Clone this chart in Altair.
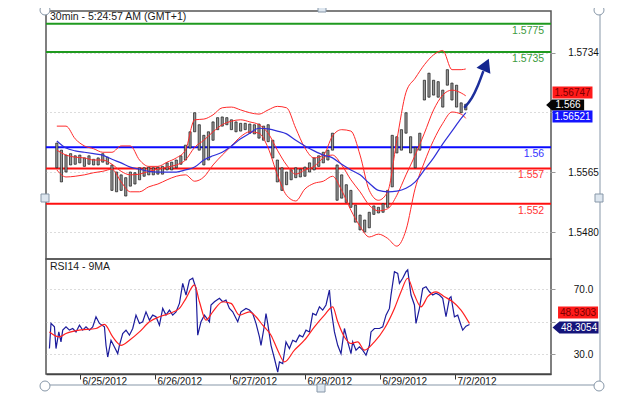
import altair as alt
import pandas as pd

FONT = "Liberation Sans"

# ---------------- axis labels ----------------
TICK_BARS = [0, 48, 96, 144, 192, 240]          # 30-min bar index (0 = start of 6/25)
TICK_LABELS = ["6/25/2012", "6/26/2012", "6/27/2012", "6/28/2012", "6/29/2012", "7/2/2012"]
PRICE_TICKS = [1.5480, 1.5565, 1.5650, 1.5734]
RSI_TICKS = [30, 50, 70]

# ---------------- price candles (sampled every 3 bars) ----------------
candle_bar = list(range(-18, 250, 3))
candle_high = [1.5606, 1.5596, 1.5589, 1.5591, 1.5588, 1.5589, 1.5585, 1.5588, 1.5583, 1.5585,
               1.5591, 1.5586, 1.5575, 1.5565, 1.5561, 1.5557, 1.5565, 1.5564, 1.5571, 1.5571,
               1.5572, 1.5571, 1.5572, 1.5573, 1.5578, 1.5579, 1.5582, 1.5588, 1.5603, 1.5622,
               1.5649, 1.5632, 1.5617, 1.5622, 1.5636, 1.5642, 1.5643, 1.5642, 1.5639, 1.5636,
               1.5634, 1.5634, 1.5633, 1.5632, 1.5633, 1.5630, 1.5632, 1.5610, 1.5582, 1.5571,
               1.5565, 1.5568, 1.5571, 1.5569, 1.5572, 1.5578, 1.5585, 1.5588, 1.5593, 1.5596,
               1.5620, 1.5575, 1.5561, 1.5547, 1.5539, 1.5518, 1.5504, 1.5497, 1.5508, 1.5517,
               1.5515, 1.5520, 1.5539, 1.5617, 1.5615, 1.5625, 1.5649, 1.5615, 1.5600, 1.5620,
               1.5695, 1.5705, 1.5695, 1.5693, 1.5681, 1.5710, 1.5691, 1.5688, 1.5663, 1.5661]
candle_low = [1.5571, 1.5551, 1.5565, 1.5575, 1.5576, 1.5578, 1.5573, 1.5576, 1.5575, 1.5575,
              1.5579, 1.5576, 1.5539, 1.5537, 1.5539, 1.5531, 1.5545, 1.5548, 1.5554, 1.5559,
              1.5561, 1.5561, 1.5562, 1.5562, 1.5568, 1.5568, 1.5571, 1.5576, 1.5582, 1.5599,
              1.5622, 1.5596, 1.5575, 1.5582, 1.5610, 1.5625, 1.5630, 1.5632, 1.5625, 1.5622,
              1.5623, 1.5625, 1.5620, 1.5619, 1.5613, 1.5610, 1.5608, 1.5585, 1.5551, 1.5539,
              1.5547, 1.5554, 1.5557, 1.5558, 1.5559, 1.5565, 1.5568, 1.5573, 1.5578, 1.5582,
              1.5596, 1.5525, 1.5528, 1.5522, 1.5515, 1.5494, 1.5483, 1.5480, 1.5486, 1.5505,
              1.5507, 1.5508, 1.5515, 1.5544, 1.5592, 1.5596, 1.5620, 1.5592, 1.5571, 1.5596,
              1.5667, 1.5671, 1.5674, 1.5671, 1.5657, 1.5688, 1.5667, 1.5657, 1.5649, 1.5653]

# ---------------- Bollinger bands and moving average ----------------
band_bar = [-18, -12, -6, 0, 6, 12, 18, 24, 30, 36, 42, 48, 54, 60, 66, 72, 78, 84, 90, 96,
            102, 108, 114, 120, 126, 132, 138, 144, 150, 156, 162, 168, 174, 180, 186, 192,
            198, 204, 210, 216, 222, 228, 234, 240, 246, 249]
bb_upper = [1.5630, 1.5630, 1.5612, 1.5602, 1.5598, 1.5593, 1.5593, 1.5602, 1.5602, 1.5582,
            1.5573, 1.5573, 1.5579, 1.5585, 1.5596, 1.5639, 1.5640, 1.5646, 1.5656, 1.5657,
            1.5653, 1.5649, 1.5647, 1.5653, 1.5658, 1.5656, 1.5627, 1.5599, 1.5585, 1.5589,
            1.5616, 1.5625, 1.5623, 1.5589, 1.5539, 1.5525, 1.5537, 1.5610, 1.5678, 1.5698,
            1.5717, 1.5731, 1.5737, 1.5710, 1.5710, 1.5711]
bb_middle = [1.5596, 1.5589, 1.5586, 1.5585, 1.5582, 1.5582, 1.5576, 1.5566, 1.5561, 1.5562,
             1.5566, 1.5569, 1.5572, 1.5575, 1.5582, 1.5600, 1.5610, 1.5622, 1.5632, 1.5637,
             1.5639, 1.5636, 1.5632, 1.5620, 1.5596, 1.5575, 1.5562, 1.5568, 1.5573, 1.5585,
             1.5589, 1.5575, 1.5554, 1.5537, 1.5518, 1.5510, 1.5513, 1.5532, 1.5561, 1.5589,
             1.5620, 1.5653, 1.5674, 1.5681, 1.5677, 1.5673]
bb_lower = [1.5568, 1.5558, 1.5559, 1.5561, 1.5564, 1.5566, 1.5569, 1.5551, 1.5537, 1.5537,
            1.5544, 1.5548, 1.5554, 1.5559, 1.5561, 1.5552, 1.5558, 1.5575, 1.5589, 1.5602,
            1.5615, 1.5622, 1.5620, 1.5599, 1.5561, 1.5532, 1.5524, 1.5541, 1.5549, 1.5552,
            1.5559, 1.5539, 1.5511, 1.5488, 1.5473, 1.5477, 1.5471, 1.5460, 1.5483, 1.5542,
            1.5579, 1.5610, 1.5634, 1.5650, 1.5647, 1.5641]
ma_blue = [1.5609, 1.5599, 1.5595, 1.5593, 1.5591, 1.5589, 1.5583, 1.5578, 1.5572, 1.5569,
           1.5566, 1.5565, 1.5565, 1.5565, 1.5568, 1.5572, 1.5582, 1.5588, 1.5593, 1.5602,
           1.5612, 1.5620, 1.5627, 1.5626, 1.5623, 1.5619, 1.5610, 1.5602, 1.5595, 1.5589,
           1.5585, 1.5576, 1.5568, 1.5561, 1.5549, 1.5539, 1.5537, 1.5538, 1.5542, 1.5551,
           1.5568, 1.5585, 1.5605, 1.5623, 1.5641, 1.5649]

# ---------------- horizontal levels ----------------
level_values = [1.5775, 1.5735, 1.56, 1.557, 1.552]
level_labels = ["1.5775", "1.5735", "1.56", "1.557", "1.552"]
level_line_colors = ["#1f9a1f", "#1f9a1f", "#0a0aff", "#ff1010", "#ff1010"]
level_text_colors = ["#3d9a3d", "#3d9a3d", "#3535ff", "#ff3535", "#ff3535"]

# ---------------- forecast arrow ----------------
arrow_bar = [248, 253, 257, 260.5]
arrow_price = [1.5656, 1.5670, 1.5688, 1.5708]
arrow_head_bar = [262.3]
arrow_head_price = [1.5717]

# ---------------- RSI(14) and its 9-period MA ----------------
rsi_bar = [-19.6, -18.6, -16.4, -15.4, -13.6, -12.2, -11.1, -9, -6.8, -4.7,
           -2.6, -0.4, 1.7, 3.8, 6, 8.1, 10.2, 12.4, 15.6, 16.6,
           17.7, 19.8, 22, 24.1, 25.2, 27.3, 29.4, 31.6, 33.7, 35.8,
           38, 40.1, 42.2, 44.4, 46.5, 48.6, 50.8, 52.9, 55, 57.2,
           59.3, 61.4, 63.6, 65.7, 67.8, 70, 72.1, 74.2, 75.3, 77.4,
           79.6, 82.8, 83.8, 86, 89.2, 91.3, 93.4, 95.6, 97.7, 100.9,
           103, 106.2, 108.4, 110.5, 112.6, 114.8, 115.8, 118, 119, 120.1,
           122.2, 124.4, 126.5, 127.6, 129.7, 131.8, 134, 136.1, 138.2, 140.4,
           142.5, 144.6, 146.8, 148.9, 151, 153.2, 155.3, 157.4, 159.6, 160.6,
           162.8, 164.9, 167, 169.2, 171.3, 173.4, 174.5, 176.6, 178.8, 180.9,
           183, 185.2, 186.2, 188.4, 191.6, 193.7, 195.8, 198, 199, 201.2,
           203.3, 204.4, 206.5, 208.6, 209.7, 211.8, 214, 215, 217.2, 219.3,
           221.4, 223.6, 225.7, 227.8, 230, 232.1, 234.2, 236.4, 237.4, 239.6,
           241.7, 243.8, 244.9, 247, 249.2]
rsi_val = [33.5, 48.9, 46.8, 33.5, 43.7, 37.6, 44.8, 46.8, 44.8, 45.8,
           43.7, 47.8, 44.8, 46.8, 44.8, 46.8, 53.0, 48.9, 46.8, 35.5,
           28.3, 38.6, 34.5, 30.4, 35.5, 42.7, 44.8, 41.7, 45.8, 54.0,
           48.9, 49.9, 56.0, 50.9, 54.0, 53.0, 47.8, 58.1, 54.0, 57.1,
           54.0, 56.0, 61.2, 73.5, 66.3, 75.5, 76.6, 70.4, 41.7, 49.9,
           54.0, 49.9, 60.2, 62.2, 64.3, 62.2, 63.2, 58.1, 56.0, 49.9,
           56.0, 58.1, 57.1, 55.0, 48.9, 40.6, 35.5, 47.8, 55.0, 48.9,
           35.5, 27.4, 19.1, 25.3, 24.3, 37.6, 33.5, 38.6, 37.6, 41.7,
           40.6, 44.8, 43.7, 55.0, 54.0, 59.1, 57.1, 60.2, 69.4, 58.1,
           43.7, 35.5, 30.4, 45.8, 37.6, 30.4, 37.6, 32.5, 34.5, 32.5,
           29.4, 35.5, 43.7, 45.8, 45.8, 46.8, 54.0, 58.1, 66.3, 80.6,
           79.6, 73.5, 76.6, 80.6, 81.7, 66.3, 60.2, 48.9, 58.1, 70.4,
           71.4, 68.3, 66.3, 67.4, 66.3, 64.3, 53.0, 64.3, 65.3, 53.0,
           54.0, 47.8, 44.8, 47.2, 48.3]
rsi_ma_bar = [-19.6, -13.2, -9, -0.4, 10.2, 15.6, 20.9, 26.2, 31.6, 38,
              44.4, 50.8, 57.2, 63.6, 67.8, 73.2, 76.4, 80.6, 84.9, 91.3,
              96.6, 102, 108.4, 112.6, 116.9, 122.2, 126.5, 130.8, 137.2, 143.6,
              150, 156.4, 161.7, 164.9, 169.2, 173.4, 177.7, 182, 188.4, 194.8,
              201.2, 205.4, 209.7, 214, 218.2, 222.5, 227.8, 233.2, 238.5, 243.8,
              249.2]
rsi_ma_val = [43.7, 40.6, 42.7, 44.8, 45.8, 48.3, 40.6, 35.5, 38.6, 43.7,
              49.9, 53.0, 55.0, 58.1, 64.3, 72.5, 62.2, 50.9, 56.0, 62.2,
              61.2, 54.0, 56.0, 53.0, 47.8, 41.7, 32.5, 25.3, 32.5, 38.6,
              46.8, 54.0, 59.1, 49.9, 40.6, 36.6, 37.6, 32.5, 37.6, 45.8,
              58.1, 68.3, 76.6, 66.3, 59.1, 65.3, 68.3, 65.3, 62.2, 57.1,
              48.9]

# ---------------- last-value badges ----------------
price_badge_value = [1.56747, 1.566, 1.56521]
price_badge_text = ["1.56747", "1.566", "1.56521"]
price_badge_fill = ["#ff1a1a", "#050505", "#1414ff"]
price_badge_ink = ["#7a0000", "#ffffff", "#ffffff"]
rsi_badge_value = [48.9303, 48.3054]
rsi_badge_text = ["48.9303", "48.3054"]
rsi_badge_fill = ["#ff1a1a", "#14147a"]
rsi_badge_ink = ["#7a0000", "#ffffff"]

# =====================================================================
W, H_PRICE, H_RSI = 505, 248, 115
x_scale = alt.Scale(domain=[-21.8, 301.4], nice=False, zero=False)
price_scale = alt.Scale(domain=[1.54418, 1.57931], nice=False, zero=False)
rsi_scale = alt.Scale(domain=[17.9, 88.4], nice=False, zero=False)

# the tick hidden behind the last-value badges keeps its gridline but no label
price_axis = alt.Axis(orient="right", values=PRICE_TICKS, title=None,
                      labelExpr="datum.value == 1.565 ? '' : format(datum.value, '.4f')",
                      grid=True, gridDash=[1, 3], gridColor="#b8b8b8", domain=False,
                      ticks=True, tickSize=4, tickColor="#999", labelAlign="center",
                      labelPadding=28, labelFontSize=10, labelFont=FONT, labelColor="#111")
rsi_axis = alt.Axis(orient="right", values=RSI_TICKS, title=None,
                    labelExpr="datum.value == 50 ? '' : format(datum.value, '.1f')",
                    grid=True, gridDash=[1, 3], gridColor="#b8b8b8", domain=False,
                    ticks=True, tickSize=4, tickColor="#999", labelAlign="center",
                    labelPadding=28, labelFontSize=10, labelFont=FONT, labelColor="#111")
label_expr = ("[" + ",".join("'%s'" % t for t in TICK_LABELS) + "][indexof(["
              + ",".join(str(b) for b in TICK_BARS) + "], datum.value)]")
x_axis = alt.Axis(values=TICK_BARS, labelExpr=label_expr, title=None, grid=False,
                  domain=True, domainColor="#444", domainWidth=1.5, ticks=True, tickSize=5,
                  tickColor="#333", labelAlign="left", labelBaseline="top", labelOffset=2,
                  labelPadding=-3, labelFontSize=10, labelFont=FONT, labelColor="#111",
                  labelOverlap=False)


def XP(field):
    return alt.X(field, type="quantitative", scale=x_scale, axis=None)


def XR(field):
    return alt.X(field, type="quantitative", scale=x_scale, axis=x_axis)


def YP(field):
    return alt.Y(field, type="quantitative", scale=price_scale, axis=price_axis)


def YR(field):
    return alt.Y(field, type="quantitative", scale=rsi_scale, axis=rsi_axis)


candles = pd.DataFrame({"bar": candle_bar, "high": candle_high, "low": candle_low})
bands = pd.DataFrame({"bar": band_bar, "upper": bb_upper, "middle": bb_middle,
                      "lower": bb_lower, "ma": ma_blue})
levels = pd.DataFrame({"value": level_values, "label": level_labels,
                       "line": level_line_colors, "ink": level_text_colors})
arrow = pd.DataFrame({"bar": arrow_bar, "price": arrow_price})
arrow_head = pd.DataFrame({"bar": arrow_head_bar, "price": arrow_head_price})
pbadges = pd.DataFrame({"value": price_badge_value, "text": price_badge_text,
                        "fill": price_badge_fill, "ink": price_badge_ink})
rbadges = pd.DataFrame({"value": rsi_badge_value, "text": rsi_badge_text,
                        "fill": rsi_badge_fill, "ink": rsi_badge_ink})
rsi = pd.DataFrame({"bar": rsi_bar, "rsi": rsi_val})
rsi_ma = pd.DataFrame({"bar": rsi_ma_bar, "ma": rsi_ma_val})

RECT = "M-1,-0.3H1V0.3H-1Z"
POINTER = "M-1,0L-0.68,-0.29H1V0.29H-0.68Z"
POINTER_R = "M-1,0L-0.7,-0.26H1V0.26H-0.7Z"
FRAME = "#8797a8"

# ---------------- price panel ----------------
lv = alt.Chart(levels).mark_rule(strokeWidth=2).encode(
    y=YP("value"), color=alt.Color("line:N", scale=None))
cd = alt.Chart(candles).mark_bar(width=2.2, fill="#9a9a9a", stroke="#151515", strokeWidth=0.7).encode(
    x=XP("bar"), y=YP("low"), y2="high")
base_b = alt.Chart(bands)
up = base_b.mark_line(color="#ff2a2a", strokeWidth=1, interpolate="monotone").encode(x=XP("bar"), y=YP("upper"))
md = base_b.mark_line(color="#ff2a2a", strokeWidth=1, interpolate="monotone").encode(x=XP("bar"), y=YP("middle"))
lo = base_b.mark_line(color="#ff2a2a", strokeWidth=1, interpolate="monotone").encode(x=XP("bar"), y=YP("lower"))
ma = base_b.mark_line(color="#3030d8", strokeWidth=1.2, interpolate="monotone").encode(x=XP("bar"), y=YP("ma"))
lvt = alt.Chart(levels).mark_text(align="right", baseline="middle", dy=7, fontSize=10.5, font=FONT).encode(
    x=alt.XDatum(300.2, type="quantitative", scale=x_scale, axis=None),
    y=YP("value"), text="label:N", color=alt.Color("ink:N", scale=None))
ar = alt.Chart(arrow).mark_line(color="#1d2f9c", strokeWidth=2.5, interpolate="monotone").encode(
    x=XP("bar"), y=YP("price"))
ah = alt.Chart(arrow_head).mark_point(shape="triangle-up", angle=24, size=230, filled=True,
                                      color="#14268f", opacity=1).encode(x=XP("bar"), y=YP("price"))

pb_bg = []
pb_shapes = [(RECT, 318.7, -2, 1600), (POINTER, 313.9, 0, 1444), (RECT, 318.7, 6, 1600)]
pb_text_x = [318.7, 315.8, 318.7]
for i, (shape, xb, dy, size) in enumerate(pb_shapes):
    one = pbadges.iloc[[i]]
    pb_bg.append(alt.Chart(one).mark_point(shape=shape, size=size, filled=True, opacity=1,
                                           yOffset=dy).encode(
        x=alt.XDatum(xb, type="quantitative", scale=x_scale, axis=None),
        y=YP("value"), color=alt.Color("fill:N", scale=None)))
    pb_bg.append(alt.Chart(one).mark_text(fontSize=10, font=FONT, baseline="middle",
                                          yOffset=dy + 0.5).encode(
        x=alt.XDatum(pb_text_x[i], type="quantitative", scale=x_scale, axis=None),
        y=YP("value"), text="text:N", color=alt.Color("ink:N", scale=None)))

deco = pd.DataFrame({"k": [0]})
ttl = alt.Chart(deco).mark_text(text="30min - 5:24:57 AM (GMT+1)", align="left", baseline="middle",
                                fontSize=10.5, font=FONT, color="#1a1a1a").encode(
    x=alt.value(4), y=alt.value(5.5))
frame_p = alt.Chart(deco).mark_rule(color=FRAME, strokeWidth=1).encode(
    x=alt.value(554), y=alt.value(0), y2=alt.value(H_PRICE))
handles_p = pd.DataFrame({"hx": [-1, 553, 276, -1, 553], "hy": [-1, -1, -3, 187, 187],
                          "shape": ["circle", "circle", "square", "square", "square"]})
hp_c = alt.Chart(handles_p[handles_p["shape"] == "circle"]).mark_point(
    shape="circle", size=100, filled=True, fill="white", stroke=FRAME, strokeWidth=1, opacity=1).encode(
    x=alt.X("hx:Q", scale=None, axis=None), y=alt.Y("hy:Q", scale=None, axis=None))
hp_s = alt.Chart(handles_p[handles_p["shape"] == "square"]).mark_point(
    shape="square", size=64, filled=True, fill="#dde6ef", stroke=FRAME, strokeWidth=1, opacity=1).encode(
    x=alt.X("hx:Q", scale=None, axis=None), y=alt.Y("hy:Q", scale=None, axis=None))

price = alt.layer(lv, cd, up, md, lo, ma, ar, ah, lvt, *pb_bg, ttl, frame_p, hp_c, hp_s).properties(
    width=W, height=H_PRICE)

# ---------------- RSI panel ----------------
rl = alt.Chart(rsi).mark_line(color="#1c1c9c", strokeWidth=1.2).encode(x=XR("bar"), y=YR("rsi"))
rm = alt.Chart(rsi_ma).mark_line(color="#ff2020", strokeWidth=1.2, interpolate="monotone").encode(
    x=XR("bar"), y=YR("ma"))
rb = []
rb_shapes = [(RECT, 318.7, -11, 1600), (POINTER_R, 317.1, 3, 2116)]
rb_text_x = [318.7, 319.4]
for i, (shape, xb, dy, size) in enumerate(rb_shapes):
    one = rbadges.iloc[[i]]
    rb.append(alt.Chart(one).mark_point(shape=shape, size=size, filled=True, opacity=1,
                                        yOffset=dy).encode(
        x=alt.XDatum(xb, type="quantitative", scale=x_scale, axis=x_axis),
        y=YR("value"), color=alt.Color("fill:N", scale=None)))
    rb.append(alt.Chart(one).mark_text(fontSize=10, font=FONT, baseline="middle",
                                       yOffset=dy + 0.5).encode(
        x=alt.XDatum(rb_text_x[i], type="quantitative", scale=x_scale, axis=x_axis),
        y=YR("value"), text="text:N", color=alt.Color("ink:N", scale=None)))
rttl = alt.Chart(deco).mark_text(text="RSI14 - 9MA", align="left", baseline="middle",
                                 fontSize=10.5, font=FONT, color="#1a1a1a").encode(
    x=alt.value(4), y=alt.value(8))
frame_r = alt.Chart(deco).mark_rule(color=FRAME, strokeWidth=1).encode(
    x=alt.value(554), y=alt.value(0), y2=alt.value(126))
frame_b = alt.Chart(deco).mark_rule(color=FRAME, strokeWidth=1).encode(
    x=alt.value(-1), x2=alt.value(554), y=alt.value(126))
handles_r = pd.DataFrame({"hx": [-1, 553, 275], "hy": [127, 127, 129],
                          "shape": ["circle", "circle", "square"]})
hr_c = alt.Chart(handles_r[handles_r["shape"] == "circle"]).mark_point(
    shape="circle", size=100, filled=True, fill="white", stroke=FRAME, strokeWidth=1, opacity=1).encode(
    x=alt.X("hx:Q", scale=None, axis=None), y=alt.Y("hy:Q", scale=None, axis=None))
hr_s = alt.Chart(handles_r[handles_r["shape"] == "square"]).mark_point(
    shape="square", size=64, filled=True, fill="#dde6ef", stroke=FRAME, strokeWidth=1, opacity=1).encode(
    x=alt.X("hx:Q", scale=None, axis=None), y=alt.Y("hy:Q", scale=None, axis=None))

rsi_panel = alt.layer(rl, rm, *rb, rttl, frame_r, frame_b, hr_c, hr_s).properties(
    width=W, height=H_RSI)

chart = alt.vconcat(price, rsi_panel, spacing=0, bounds="flush").properties(
    padding={"left": 29, "top": -7, "right": 0, "bottom": 0},
    background="white",
).configure_view(stroke="#555555", strokeWidth=1.5).configure_concat(spacing=0)

chart.save("out.html", embed_options={"renderer": "svg", "actions": False})
